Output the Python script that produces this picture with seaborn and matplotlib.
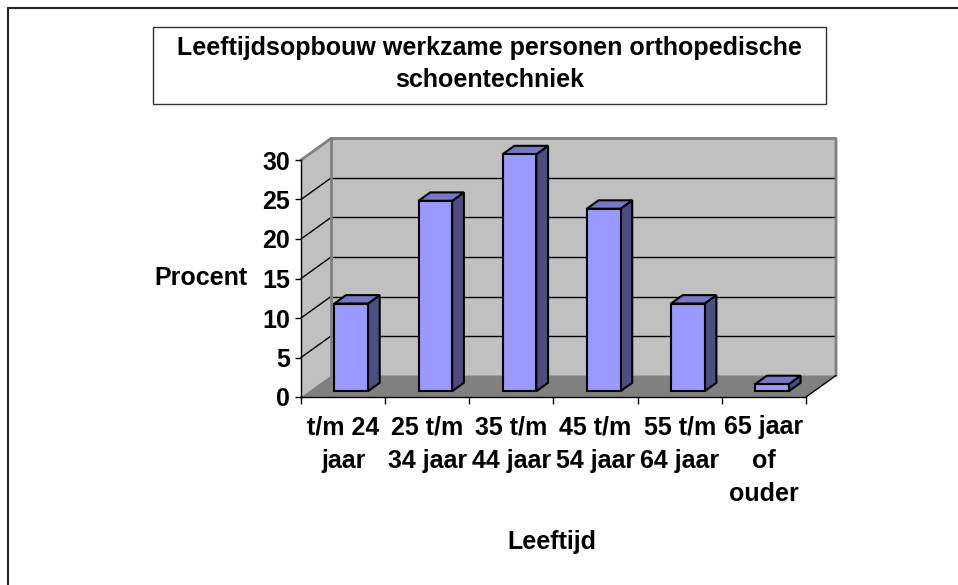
import matplotlib.pyplot as plt
import matplotlib.patches as mpatches
from matplotlib.lines import Line2D
import pandas as pd
import seaborn as sns

## Data ##
categories = ["t/m 24\njaar", "25 t/m\n34 jaar", "35 t/m\n44 jaar",
              "45 t/m\n54 jaar", "55 t/m\n64 jaar", "65 jaar\nof\nouder"]
percentages = [11.1, 24.1, 30.0, 23.1, 11.1, 0.9]
y_ticks = [0, 5, 10, 15, 20, 25, 30]
title = "Leeftijdsopbouw werkzame personen orthopedische\nschoentechniek"
x_label = "Leeftijd"
y_label = "Procent"

sns.set_style("white")
plt.rcParams["font.family"] = ["Liberation Sans", "DejaVu Sans"]
plt.rcParams["text.color"] = "black"
plt.rcParams["axes.labelcolor"] = "black"
plt.rcParams["xtick.color"] = "black"
plt.rcParams["ytick.color"] = "black"

W, H = 958, 585
fig = plt.figure(figsize=(W / 100, H / 100), dpi=100)

## front plane of the 3d box, in pixels ##
ax_l, ax_r, ax_t, ax_b = 301, 806, 160, 397
ax = fig.add_axes([ax_l / W, 1 - ax_b / H, (ax_r - ax_l) / W, (ax_b - ax_t) / H])
ax.set_facecolor("none")

df = pd.DataFrame({"Leeftijd": categories, "Procent": percentages})
sns.barplot(data=df, x="Leeftijd", y="Procent", color="#9999FF", saturation=1,
            width=0.4, edgecolor="black", linewidth=1.5, ax=ax, zorder=3)
bars = list(ax.containers[0])

n = len(categories)
ymax = y_ticks[-1]
xlo, xhi = -0.5, n - 0.5
ax.set_xlim(xlo, xhi)
ax.set_ylim(0, ymax)

## depth of the box converted to data units ##
ddx = 30 / ((ax_r - ax_l) / n)
ddy = 21.5 / ((ax_b - ax_t) / ymax)
d0, d1 = 0.27, 0.66

wall_color = "#C0C0C0"
wall_edge = "#808080"

## walls and floor ##
ax.add_patch(mpatches.Polygon([(xlo + ddx, ddy), (xhi + ddx, ddy), (xhi + ddx, ymax + ddy), (xlo + ddx, ymax + ddy)],
                              closed=True, fc=wall_color, ec="none", clip_on=False, zorder=0.1))
ax.add_patch(mpatches.Polygon([(xlo, 0), (xlo + ddx, ddy), (xlo + ddx, ymax + ddy), (xlo, ymax)],
                              closed=True, fc=wall_color, ec="none", clip_on=False, zorder=0.1))
ax.add_patch(mpatches.Polygon([(xlo, 0), (xhi, 0), (xhi + ddx, ddy), (xlo + ddx, ddy)],
                              closed=True, fc="#808080", ec="none", clip_on=False, zorder=0.2))

for v in y_ticks[1:-1]:
    ax.plot([xlo + ddx, xhi + ddx], [v + ddy, v + ddy], color="black", lw=1, clip_on=False, zorder=0.3)
    ax.plot([xlo, xlo + ddx], [v, v + ddy], color="black", lw=1, clip_on=False, zorder=0.3)

## wall borders ##
ax.plot([xlo, xlo + ddx, xhi + ddx, xhi + ddx], [ymax, ymax + ddy, ymax + ddy, ddy],
        color=wall_edge, lw=2, clip_on=False, zorder=0.4)
ax.plot([xlo + ddx, xlo + ddx], [ddy, ymax + ddy], color=wall_edge, lw=2, clip_on=False, zorder=0.4)
ax.plot([xhi, xhi + ddx], [0, ddy], color="black", lw=1, clip_on=False, zorder=0.4)

## 3d bars: move front face back, add side and top ##
k = d1 - d0
for bar in bars:
    x0 = bar.get_x() + d0 * ddx
    y0 = d0 * ddy
    w = bar.get_width()
    h = bar.get_height()
    bar.set_x(x0)
    bar.set_y(y0)
    bar.set_clip_on(False)
    x1 = x0 + w
    top = y0 + h
    side = [(x1, y0), (x1 + k * ddx, y0 + k * ddy), (x1 + k * ddx, top + k * ddy), (x1, top)]
    lid = [(x0, top), (x1, top), (x1 + k * ddx, top + k * ddy), (x0 + k * ddx, top + k * ddy)]
    ax.add_patch(mpatches.Polygon(side, closed=True, fc="#4D4D80", ec="black", lw=1.5, clip_on=False, zorder=2.9))
    ax.add_patch(mpatches.Polygon(lid, closed=True, fc="#7777C8", ec="black", lw=1.5, clip_on=False, zorder=2.9))

## axes, ticks ##
for s in ["top", "right"]:
    ax.spines[s].set_visible(False)
for s in ["left", "bottom"]:
    ax.spines[s].set_color("black")
    ax.spines[s].set_linewidth(1)

ax.set_xticks([i - 0.5 for i in range(n + 1)], [""] * (n + 1))
ax.set_xticks(range(n), categories, minor=True)
ax.tick_params(axis="x", which="major", bottom=True, length=5, width=1, color="black")
ax.tick_params(axis="x", which="minor", bottom=True, length=0, pad=13, labelsize=18, labelcolor="black")
for lbl in ax.get_xticklabels(minor=True):
    lbl.set_fontweight("bold")
    lbl.set_linespacing(1.5)

ax.set_yticks(y_ticks)
ax.tick_params(axis="y", left=True, length=4, width=1, color="black", pad=4, labelsize=18, labelcolor="black")
for lbl in ax.get_yticklabels():
    lbl.set_fontweight("bold")

ax.set_xlabel(x_label, fontsize=18, fontweight="bold", color="black")
ax.xaxis.set_label_coords(0.496, -0.611)
ax.xaxis.label.set_va("center")
ax.set_ylabel(y_label, fontsize=18, fontweight="bold", rotation=0, ha="center", va="center", color="black")
ax.yaxis.set_label_coords(-0.198, 0.502)

## title box ##
fig.add_artist(mpatches.Rectangle((153 / W, 1 - 104 / H), (826 - 153) / W, (104 - 27) / H,
                                  transform=fig.transFigure, fc="white", ec="#333333", lw=1))
fig.text(489.5 / W, 1 - 64 / H, title, ha="center", va="center", fontsize=18,
         fontweight="bold", linespacing=1.45, color="black")

## outer frame (only top and left visible) ##
fig.add_artist(Line2D([8 / W, 1], [1 - 8 / H, 1 - 8 / H], transform=fig.transFigure, color="#222222", lw=1.5))
fig.add_artist(Line2D([8 / W, 8 / W], [0, 1 - 8 / H], transform=fig.transFigure, color="#222222", lw=1.5))

fig.savefig("out.png", dpi=100)
